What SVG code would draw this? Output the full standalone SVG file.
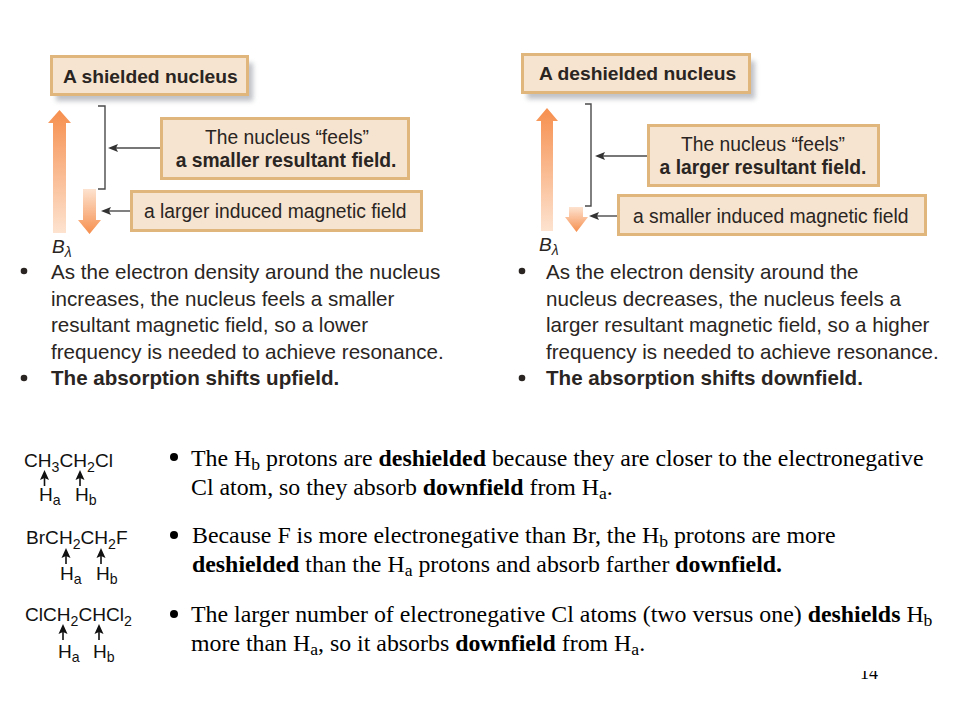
<svg xmlns="http://www.w3.org/2000/svg" width="960" height="720" viewBox="0 0 960 720">
<style>
text{fill:#2a2522}
.s{font-family:"Liberation Sans",Arial,sans-serif}
.r{font-family:"Liberation Serif","Times New Roman",serif;fill:#000}
.box{fill:#f6e4d0;stroke:#e0b67c;stroke-width:3}
.h{font-size:19.25px;font-weight:bold}
.t{font-size:19.3px}
.m{text-anchor:middle}
.b{font-size:20.6px}
.p{font-size:23.85px}
.c{font-size:19.1px;fill:#111}
.ln{fill:none;stroke:#4a4a4a;stroke-width:1.4}
.bn{font-weight:bold}
.sub{font-size:.74em}
</style>
<defs>
<linearGradient id="up" x1="0" y1="0" x2="0" y2="1"><stop offset="0" stop-color="#f68f4e"/><stop offset="1" stop-color="#fde3d0"/></linearGradient>
<linearGradient id="down" x1="0" y1="1" x2="0" y2="0"><stop offset="0" stop-color="#f68f4e"/><stop offset="1" stop-color="#fde3d0"/></linearGradient>
<filter id="blur" x="-10%" y="-40%" width="120%" height="180%"><feGaussianBlur stdDeviation="2.5"/></filter>
<clipPath id="pg"><rect x="840" y="671" width="60" height="20"/></clipPath>
</defs>
<rect width="960" height="720" fill="#fff"/>

<g id="connectors">
<path class="ln" d="M98 106H105V189H98"/>
<path class="ln" d="M161 148H111"/><path d="M108 148L118 144L116 148L118 152Z" fill="#333"/>
<path class="ln" d="M131 211H104"/><path d="M101 211L111 207L109 211L111 215Z" fill="#333"/>
<path class="ln" d="M585 104H591V206H585"/>
<path class="ln" d="M648 156H598"/><path d="M595 156L605 152L603 156L605 160Z" fill="#333"/>
<path class="ln" d="M618 216H592"/><path d="M589 216L599 212L597 216L599 220Z" fill="#333"/>
<g fill="#111" stroke="#111">
<path d="M44.500 486V473" stroke-width="1.6"/><path d="M44.500 470L40 480L44.500 478L49 480Z" stroke="none"/>
<path d="M80 486V473" stroke-width="1.6"/><path d="M80 470L75.500 480L80 478L84.500 480Z" stroke="none"/>
<path d="M66 564V551" stroke-width="1.6"/><path d="M66 548L61.500 558L66 556L70.500 558Z" stroke="none"/>
<path d="M101 564V551" stroke-width="1.6"/><path d="M101 548L96.500 558L101 556L105.500 558Z" stroke="none"/>
<path d="M63 640V627" stroke-width="1.6"/><path d="M63 624L58.500 634L63 632L67.500 634Z" stroke="none"/>
<path d="M99 640V627" stroke-width="1.6"/><path d="M99 624L94.500 634L99 632L103.500 634Z" stroke="none"/>
</g>
</g>

<g id="field-arrows">
<path d="M53 233V123H48L59.500 110L71 123H66V233Z" fill="url(#up)"/>
<path d="M83 189V220H78L89.500 234L101 220H96V189Z" fill="url(#down)"/>
<path d="M541 231V121H536L547 108L558 121H553V231Z" fill="url(#up)"/>
<path d="M569 207V217H565L576.500 232L588 217H583V207Z" fill="url(#down)"/>
</g>

<g id="shielded-title">
<rect x="56" y="63" width="197" height="38" fill="#8a8f98" opacity=".55" filter="url(#blur)"/>
<rect class="box" x="51.500" y="56.500" width="196" height="38"/>
<text class="s h" x="63" y="83">A shielded nucleus</text>
</g>
<g id="shielded-feels">
<rect class="box" x="161.500" y="118.500" width="247" height="60"/>
<text class="s t m" x="287" y="144">The nucleus “feels”</text>
<text class="s t m bn" x="286" y="167">a smaller resultant field.</text>
</g>
<g id="shielded-induced">
<rect class="box" x="131.500" y="191.500" width="290" height="39"/>
<text class="s t" x="144" y="218">a larger induced magnetic field</text>
</g>
<text class="s" x="52" y="253" font-size="19" font-style="italic">B<tspan class="sub" dy="4">λ</tspan></text>

<g id="deshielded-title">
<rect x="527" y="61" width="228" height="38" fill="#8a8f98" opacity=".55" filter="url(#blur)"/>
<rect class="box" x="522.500" y="54.500" width="227" height="38"/>
<text class="s h" x="539" y="80">A deshielded nucleus</text>
</g>
<g id="deshielded-feels">
<rect class="box" x="648.500" y="125.500" width="230" height="60"/>
<text class="s t m" x="763" y="151">The nucleus “feels”</text>
<text class="s t m bn" x="763" y="174">a larger resultant field.</text>
</g>
<g id="deshielded-induced">
<rect class="box" x="618.500" y="195.500" width="307" height="39"/>
<text class="s t" x="633" y="223">a smaller induced magnetic field</text>
</g>
<text class="s" x="539" y="251" font-size="19" font-style="italic">B<tspan class="sub" dy="4">λ</tspan></text>

<g id="left-notes">
<circle cx="24" cy="271" r="3.300" fill="#2a2522"/>
<text class="s b" x="51" y="279">As the electron density around the nucleus</text>
<text class="s b" x="51" y="306">increases, the nucleus feels a smaller</text>
<text class="s b" x="51" y="332">resultant magnetic field, so a lower</text>
<text class="s b" x="51" y="359">frequency is needed to achieve resonance.</text>
<circle cx="24" cy="378" r="3.300" fill="#2a2522"/>
<text class="s b bn" x="51" y="385">The absorption shifts upfield.</text>
</g>
<g id="right-notes">
<circle cx="522" cy="271" r="3.300" fill="#2a2522"/>
<text class="s b" x="546" y="279">As the electron density around the</text>
<text class="s b" x="546" y="306">nucleus decreases, the nucleus feels a</text>
<text class="s b" x="546" y="332">larger resultant magnetic field, so a higher</text>
<text class="s b" x="546" y="359">frequency is needed to achieve resonance.</text>
<circle cx="522" cy="378" r="3.300" fill="#2a2522"/>
<text class="s b bn" x="546" y="385">The absorption shifts downfield.</text>
</g>

<g id="molecule-1">
<text class="s c" x="24" y="467">CH<tspan class="sub" dy="5">3</tspan><tspan dy="-5">CH</tspan><tspan class="sub" dy="5">2</tspan><tspan dy="-5">Cl</tspan></text>
<text class="s c" x="39" y="501">H<tspan class="sub" dy="4">a</tspan></text>
<text class="s c" x="75" y="501">H<tspan class="sub" dy="4">b</tspan></text>
</g>
<g id="molecule-2">
<text class="s c" x="26" y="544">BrCH<tspan class="sub" dy="5">2</tspan><tspan dy="-5">CH</tspan><tspan class="sub" dy="5">2</tspan><tspan dy="-5">F</tspan></text>
<text class="s c" x="60" y="580">H<tspan class="sub" dy="4">a</tspan></text>
<text class="s c" x="96" y="580">H<tspan class="sub" dy="4">b</tspan></text>
</g>
<g id="molecule-3">
<text class="s c" x="25" y="621">ClCH<tspan class="sub" dy="5">2</tspan><tspan dy="-5">CHCl</tspan><tspan class="sub" dy="5">2</tspan></text>
<text class="s c" x="58" y="658">H<tspan class="sub" dy="4">a</tspan></text>
<text class="s c" x="93" y="658">H<tspan class="sub" dy="4">b</tspan></text>
</g>

<g id="explanations">
<circle cx="174" cy="457" r="4" fill="#000"/>
<text class="r p" x="191" y="466">The H<tspan class="sub" dy="4">b</tspan><tspan dy="-4"> protons are </tspan><tspan class="bn">deshielded</tspan> because they are closer to the electronegative</text>
<text class="r p" x="191" y="495">Cl atom, so they absorb <tspan class="bn">downfield</tspan> from H<tspan class="sub" dy="4">a</tspan><tspan dy="-4">.</tspan></text>
<circle cx="174" cy="535" r="4" fill="#000"/>
<text class="r p" x="192" y="543">Because F is more electronegative than Br, the H<tspan class="sub" dy="4">b</tspan><tspan dy="-4"> protons are more</tspan></text>
<text class="r p" x="192" y="572"><tspan class="bn">deshielded</tspan> than the H<tspan class="sub" dy="4">a</tspan><tspan dy="-4"> protons and absorb farther </tspan><tspan class="bn">downfield.</tspan></text>
<circle cx="174" cy="614" r="4" fill="#000"/>
<text class="r p" x="191" y="622">The larger number of electronegative Cl atoms (two versus one) <tspan class="bn">deshields</tspan> H<tspan class="sub" dy="4">b</tspan></text>
<text class="r p" x="191" y="651">more than H<tspan class="sub" dy="4">a</tspan><tspan dy="-4">, so it absorbs </tspan><tspan class="bn">downfield</tspan> from H<tspan class="sub" dy="4">a</tspan><tspan dy="-4">.</tspan></text>
</g>
<g clip-path="url(#pg)"><text class="r" x="860" y="679" font-size="18">14</text></g>
</svg>
